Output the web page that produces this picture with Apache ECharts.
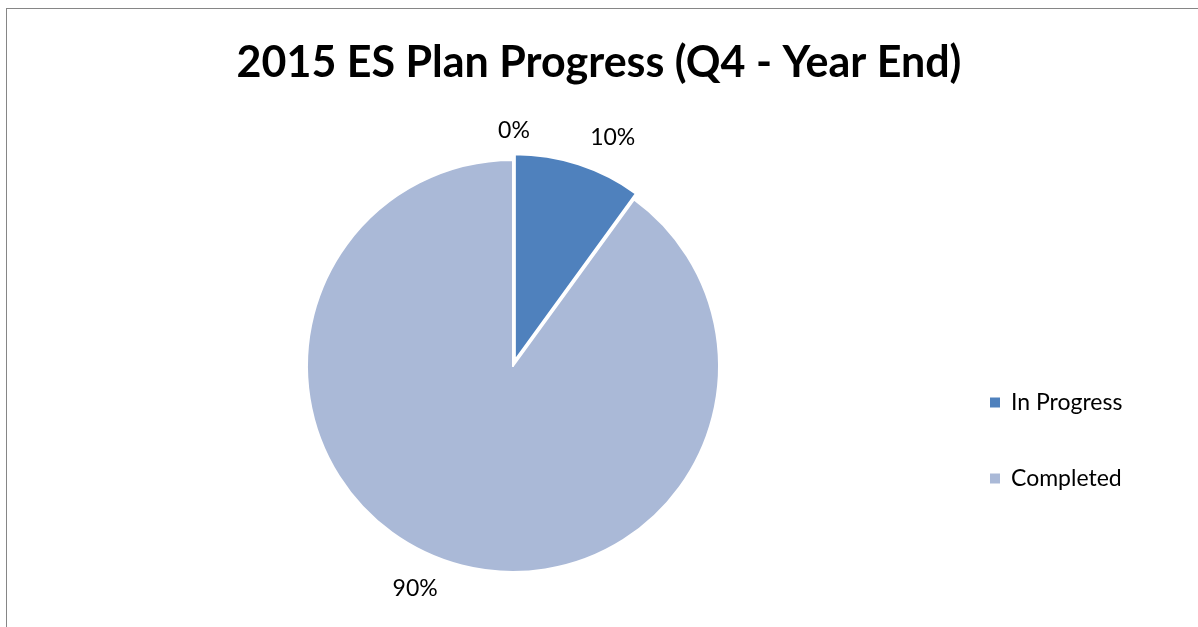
<!DOCTYPE html>
<html>
<head>
<meta charset="utf-8">
<script src="https://cdn.jsdelivr.net/npm/echarts@6/dist/echarts.min.js"></script>
<style>
  html, body { margin: 0; padding: 0; background: #fff; overflow: hidden; }
  #frame { position: absolute; left: 6px; top: 8px; width: 1400px; height: 800px;
           border: 1px solid #868686; box-sizing: border-box; }
  #chart { position: absolute; left: 0; top: 0; width: 1198px; height: 627px; }
</style>
</head>
<body>
<div id="frame"></div>
<div id="chart"></div>
<script>
// Plan status shares (percent)
const categories = ['In Progress', 'Completed', 'Not Started'];
const values = [10, 90, 0];
const legendItems = ['In Progress', 'Completed'];
const colors = ['#4F81BD', '#AAB9D7', '#9BBB59'];
const titleText = '2015 ES Plan Progress (Q4 - Year End)';

const FONT = 'Lato, "Open Sans", sans-serif';

const chart = echarts.init(document.getElementById('chart'), null, { renderer: 'canvas' });

const seriesData = categories.map((name, i) => ({
  name,
  value: values[i],
  selected: i === 0,
  itemStyle: { color: colors[i] }
}));

chart.setOption({
  animation: false,
  title: {
    text: titleText,
    left: 'center',
    top: 42,
    padding: 0,
    textStyle: { fontFamily: FONT, fontWeight: 'bold', fontSize: 43, color: '#000' }
  },
  legend: {
    data: legendItems,
    orient: 'vertical',
    left: 988,
    top: 391,
    padding: 0,
    itemWidth: 12,
    itemHeight: 12,
    itemGap: 53,
    icon: 'rect',
    selectedMode: false,
    textStyle: { fontFamily: FONT, fontSize: 23, color: '#000', padding: [0, 0, 0, 5] }
  },
  series: [{
    type: 'pie',
    center: [513, 366],
    radius: 206,
    startAngle: 90,
    clockwise: true,
    selectedMode: 'single',
    selectedOffset: 6,
    avoidLabelOverlap: false,
    stillShowZeroSum: true,
    itemStyle: { borderColor: '#fff', borderWidth: 2 },
    label: {
      show: true,
      position: 'outside',
      formatter: p => p.value + '%',
      fontFamily: FONT,
      fontSize: 23,
      color: '#000',
      distanceToLabelLine: 3
    },
    labelLine: { show: false, length: 28, length2: 0 },
    labelLayout: p => (p.dataIndex === 2 ? { align: 'center', dx: -2, dy: -1 } : {}),
    emphasis: { disabled: true },
    data: seriesData
  }]
});
</script>
</body>
</html>
